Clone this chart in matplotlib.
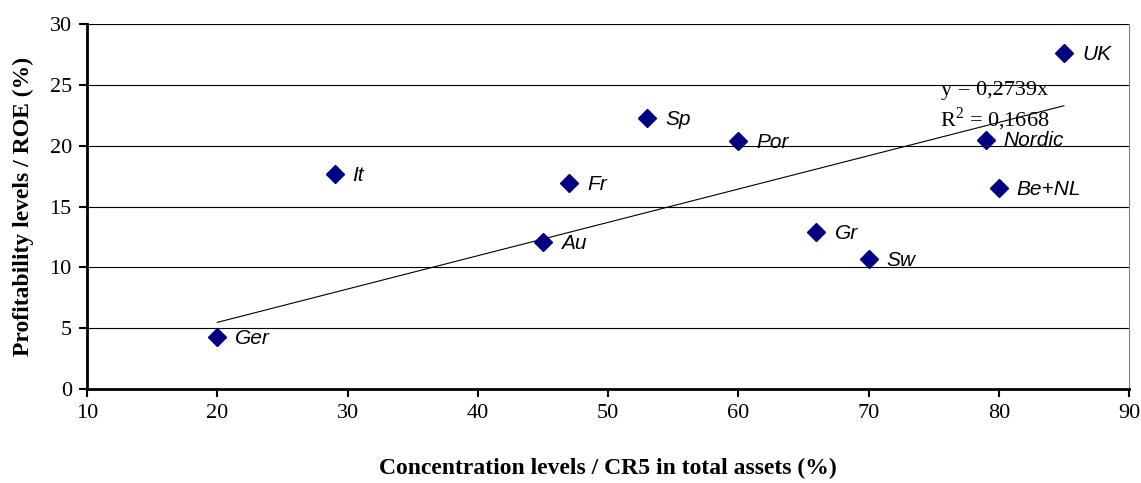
import matplotlib.pyplot as plt
import numpy as np

# country data
countries = ['Ger', 'It', 'Au', 'Fr', 'Sp', 'Por', 'Gr', 'Sw', 'Nordic', 'Be+NL', 'UK']
cr5 = [20, 29, 45, 47, 53, 60, 66, 70, 79, 80, 85]
roe = [4.3, 17.7, 12.1, 16.9, 22.3, 20.4, 12.9, 10.7, 20.5, 16.5, 27.6]
slope = 0.2739
r2 = 0.1668

plt.rcParams['font.family'] = ['Liberation Serif', 'DejaVu Serif']
plt.rcParams['mathtext.fontset'] = 'custom'
plt.rcParams['mathtext.rm'] = 'Liberation Serif'

fig = plt.figure(figsize=(11.41, 4.83), dpi=100)
ax = fig.add_axes([0.0763, 0.1946, 0.9132, 0.7557])

ax.set_xlim(10, 90)
ax.set_ylim(0, 30)
ax.set_xticks(range(10, 91, 10))
ax.set_yticks(range(0, 31, 5))
ax.yaxis.grid(True, color='black', linewidth=0.8)
ax.set_axisbelow(True)

for s in ['left', 'bottom']:
    ax.spines[s].set_linewidth(2)
ax.spines['top'].set_visible(False)
ax.spines['right'].set_color('#808080')
ax.tick_params(direction='out', length=6, width=1.5, labelsize=16, pad=5)

# trendline through origin
xs = np.array([min(cr5), max(cr5)])
ax.plot(xs, slope * xs, color='black', linewidth=0.8, zorder=2)

ax.plot(cr5, roe, linestyle='none', marker='D', markersize=9,
        color='#000080', zorder=3)
for name, x, y in zip(countries, cr5, roe):
    ax.annotate(name, (x, y), xytext=(13, -1), textcoords='offset points',
                ha='left', va='center', fontsize=15, style='italic',
                family='Liberation Sans', zorder=4)

ax.text(79.7, 24.5, 'y = 0,%sx' % str(slope).split('.')[1], ha='center', va='center', fontsize=16)
ax.text(79.7, 22.2, 'R$^2$ = 0,%s' % str(r2).split('.')[1], ha='center', va='center', fontsize=16)

ax.set_xlabel('Concentration levels / CR5 in total assets (%)',
              fontsize=17, fontweight='bold')
ax.set_ylabel('Profitability levels / ROE (%)',
              fontsize=17, fontweight='bold')
ax.xaxis.set_label_coords(0.5, -0.19)
ax.yaxis.set_label_coords(-0.051, 0.5)

fig.savefig('out.png', dpi=100)
